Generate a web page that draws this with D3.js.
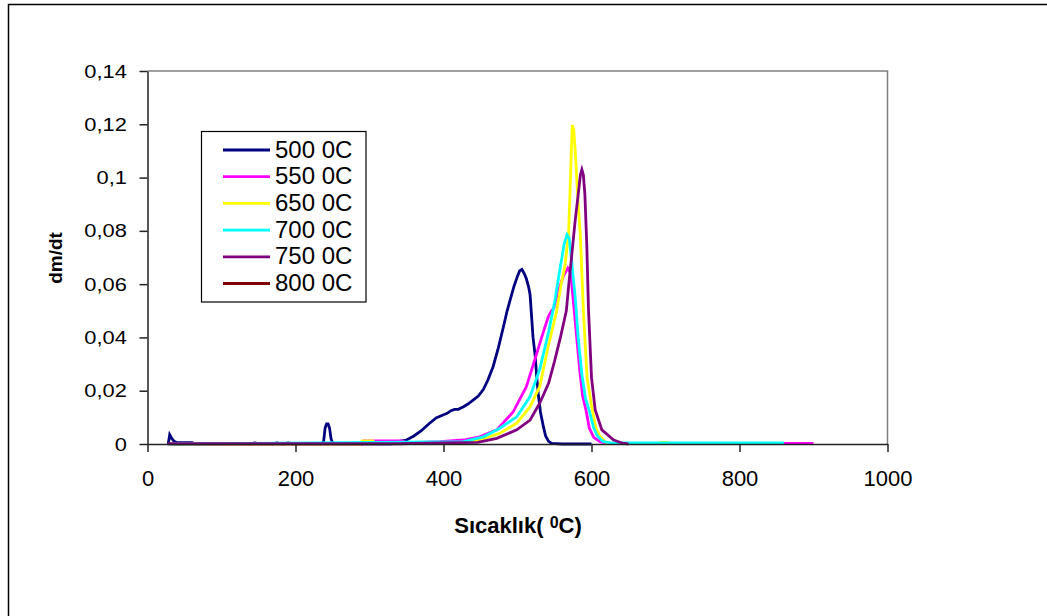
<!DOCTYPE html>
<html><head><meta charset="utf-8">
<script src="https://cdn.jsdelivr.net/npm/d3@7"></script>
<style>
html,body{margin:0;padding:0;background:#fff;}
svg{display:block;font-family:"Liberation Sans",Arial,sans-serif;}
</style></head>
<body><svg id="c" width="1047" height="616"></svg>
<script>
const seriesNames = ["500 0C","550 0C","650 0C","700 0C","750 0C","800 0C"];
const seriesColors = ["#000080","#FF00FF","#FFFF00","#00FFFF","#800080","#800000"];

const t500 = [28,30,33,36,40,60,65,140,145,150,155,170,175,180,185,190,195,236,238,240,242,244,246,248,250,255,330,340,350,360,370,380,390,400,405,410,415,420,427,433,440,447,454,460,467,474,481,486,490,495,500,503,506,509,512,515,517,519,521,524,526,528,531,535,538,542,546,560,600];
const v500 = [0,0.0035,0.002,0.001,0.0005,0.0005,0.0001,0.0001,0.0004,0.0001,0.0001,0.0001,0.0004,0.0001,0.0001,0.0004,0.0001,0.0001,0.001,0.006,0.0075,0.0075,0.006,0.002,0.0005,0.0001,0.0001,0.001,0.0015,0.003,0.005,0.0075,0.0098,0.011,0.0115,0.0125,0.013,0.013,0.014,0.015,0.0165,0.018,0.0205,0.024,0.029,0.036,0.044,0.05,0.054,0.059,0.063,0.065,0.0655,0.064,0.062,0.059,0.056,0.048,0.04,0.0328,0.025,0.019,0.012,0.0065,0.003,0.001,0.0002,0,0];

const t550 = [30,290,292,345,350,395,427,449,472,494,512,526,536,542,546,549,556,562,568,572,576,580,584,588,592.5,597,603,612,625,900];
const v550 = [0,0,0.0012,0.0012,0.0004,0.0009,0.0015,0.0027,0.0053,0.012,0.0215,0.034,0.043,0.048,0.05,0.051,0.058,0.063,0.066,0.064,0.052,0.04,0.028,0.018,0.0128,0.006,0.0025,0.0008,0.0002,0.0002];

const t650 = [30,288,290,305,307,420,449,476,499,517,530,541,553,559,564,569,571,573,574,576,578,580,582,585,589,594,601,606,612,620,630,690,692,704,706];
const v650 = [0,0,0.0012,0.0012,0.0002,0.0003,0.0015,0.004,0.0078,0.014,0.0215,0.036,0.05,0.06,0.0666,0.079,0.095,0.112,0.1197,0.118,0.11,0.1,0.09,0.078,0.05,0.025,0.0128,0.006,0.0027,0.0005,0.0002,0.0002,0.0006,0.0006,0.0002];

const t700 = [30,427,454,476,499,517,530,542,550,557,563,567,570,573,578,582,587,592,597,603,608,615,625,860];
const v700 = [0,0.0009,0.0027,0.0059,0.0102,0.0178,0.028,0.042,0.053,0.065,0.075,0.0785,0.077,0.069,0.055,0.04,0.026,0.017,0.0125,0.006,0.003,0.001,0.0004,0.0004];

const t750 = [27,340,395,446,472,499,517,530,542,550,558,566,569,573,578,582.6,585,587,589,591,593.6,596,600,605,614,630,642,650];
const v750 = [0.0001,0.0001,0.0004,0.0006,0.0021,0.0053,0.009,0.0153,0.0228,0.031,0.04,0.05,0.059,0.07,0.084,0.095,0.101,0.103,0.101,0.094,0.075,0.05,0.025,0.0128,0.0053,0.0015,0.0003,0];

const t800 = [];
const v800 = [];

const xTicks = [0,200,400,600,800,1000];
const yTicks = [0,0.02,0.04,0.06,0.08,0.1,0.12,0.14];
const yTickLabels = ["0","0,02","0,04","0,06","0,08","0,1","0,12","0,14"];

const seriesT = [t500,t550,t650,t700,t750,t800];
const seriesV = [v500,v550,v650,v700,v750,v800];

const svg = d3.select("#c");
const L = 147.5, R = 887.5, T = 71, B = 444;
const x = d3.scaleLinear().domain([0,1000]).range([L,R]);
const y = d3.scaleLinear().domain([0,0.14]).range([B,T]);

// outer frame
svg.append("rect").attr("x",8.5).attr("y",4.5).attr("width",1100).attr("height",700)
  .attr("fill","none").attr("stroke","#000").attr("stroke-width",1.5);

// plot area border (top/right gray)
svg.append("path").attr("d",`M${L},${T}H${R}V${B}`).attr("fill","none").attr("stroke","#808080").attr("stroke-width",1.5);

// series
const line = d3.line().x(d=>x(d[0])).y(d=>y(d[1]));
seriesT.forEach((ts,i)=>{
  const pts = ts.map((t,j)=>[t, seriesV[i][j]]);
  if(!pts.length) return;
  svg.append("path").datum(pts).attr("d",line).attr("fill","none")
    .attr("stroke",seriesColors[i]).attr("stroke-width",2.8).attr("stroke-linejoin","miter");
});

// axes
const xAxis = svg.append("g").attr("transform",`translate(0,${B})`)
  .call(d3.axisBottom(x).tickValues(xTicks).tickSize(8).tickSizeOuter(0).tickPadding(0).tickFormat(d=>String(d)));
xAxis.select(".domain").attr("stroke","#222").attr("stroke-width",1.5);
xAxis.selectAll(".tick line").attr("stroke","#222").attr("stroke-width",1.5);
xAxis.selectAll(".tick text").attr("font-size",22).attr("fill","#000")
  .attr("font-family","Liberation Sans, Arial, sans-serif").attr("y",42).attr("dy",0);

const yAxis = svg.append("g").attr("transform",`translate(${L},0)`)
  .call(d3.axisLeft(y).tickValues(yTicks).tickSize(8).tickSizeOuter(0).tickFormat((d,i)=>yTickLabels[i]));
yAxis.select(".domain").attr("stroke","#222").attr("stroke-width",1.5);
yAxis.selectAll(".tick line").attr("stroke","#222").attr("stroke-width",1.5);
yAxis.selectAll(".tick text").attr("font-size",17.5).attr("fill","#000")
  .attr("font-family","Liberation Sans, Arial, sans-serif")
  .attr("x",-16.5).attr("dy",0).attr("y",6).attr("transform","scale(1.25,1)");

// axis titles
const xt = svg.append("text").attr("x",518).attr("y",533).attr("text-anchor","middle")
  .attr("font-weight","bold").attr("font-size",22);
xt.append("tspan").text("Sıcaklık( ");
xt.append("tspan").text("0").attr("font-size",16).attr("dy",-5);
xt.append("tspan").text("C)").attr("dy",5);

svg.append("text").attr("transform","translate(62,258) rotate(-90)").attr("text-anchor","middle")
  .attr("font-weight","bold").attr("font-size",19).text("dm/dt");

// legend
const lg = svg.append("g");
lg.append("rect").attr("x",201.5).attr("y",131.5).attr("width",164.5).attr("height",170.5)
  .attr("fill","#fff").attr("stroke","#000").attr("stroke-width",1.2);
seriesNames.forEach((n,i)=>{
  const yy = 150 + i*26.7;
  lg.append("line").attr("x1",223).attr("x2",270).attr("y1",yy).attr("y2",yy)
    .attr("stroke",seriesColors[i]).attr("stroke-width",2.8);
  lg.append("text").attr("x",275).attr("y",yy+7.5).attr("font-size",24).text(n);
});
</script></body></html>
